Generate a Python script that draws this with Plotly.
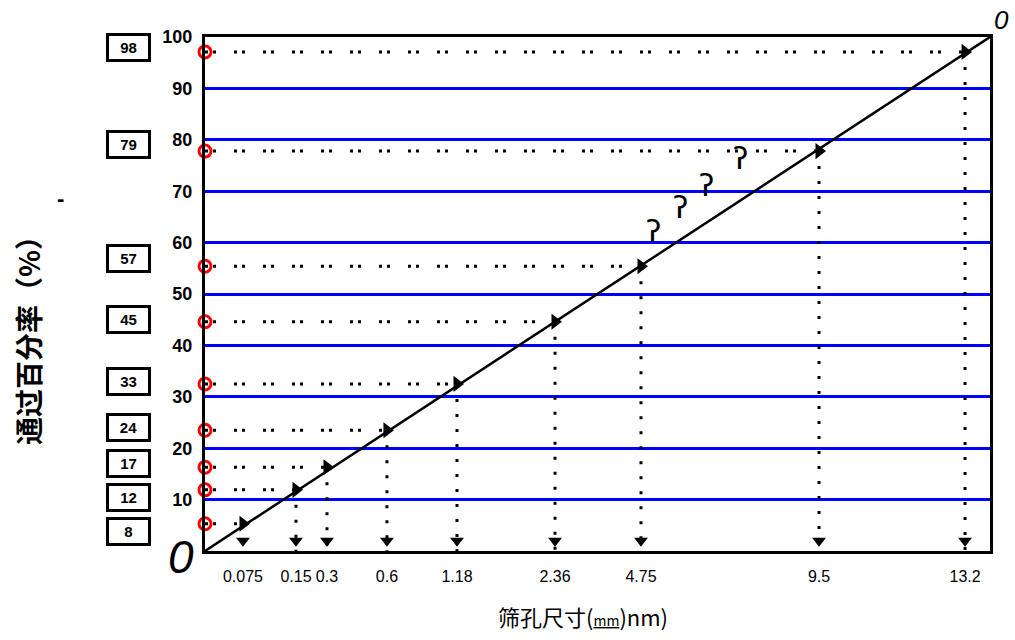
import plotly.graph_objects as go

# ---- data ----
sieve_labels = ["0.075", "0.15", "0.3", "0.6", "1.18", "2.36", "4.75", "9.5", "13.2"]
# position of each sieve along the (irregular) horizontal scale, 0-100
sieve_pos = [4.84, 11.59, 15.54, 23.18, 32.10, 44.59, 55.54, 78.22, 96.82]
# passing percentage as drawn
passing = [5.3, 11.9, 16.3, 23.5, 32.5, 44.6, 55.4, 77.8, 97.1]
# values written in the boxes on the left
box_values = [8, 12, 17, 24, 33, 45, 57, 79, 98]
box_labels = ["8", "12", "17", "24", "33", "45", "57", "79", "98"]
# maximum-density reference line
ref_x = [0, 100]
ref_y = [0, 100]
y_ticks = [10, 20, 30, 40, 50, 60, 70, 80, 90, 100]
# "?" marks near the line
q_x = [57.1, 60.6, 63.9, 68.2]
q_y = [62.1, 66.9, 71.2, 76.3]

L, R, T, B = 205, 25, 37, 89
W, H = 1015, 640
plot_w = W - L - R
plot_h = H - T - B
px_per_unit = plot_h / 100.0


def px_x(px):
    return (px - L) / plot_w


def px_y(py):
    return (H - B - py) / plot_h


fig = go.Figure()

# horizontal dotted lines from y axis to each point
hx, hy = [], []
for xp, p in zip(sieve_pos, passing):
    hx += [0, xp, None]
    hy += [p, p, None]
fig.add_trace(go.Scatter(x=hx, y=hy, mode="lines",
                         line=dict(color="black", width=3, dash="3px,5px,3px,18px"),
                         hoverinfo="skip", showlegend=False))
# vertical dotted lines from each point down to the axis
vx, vy = [], []
for xp, p in zip(sieve_pos, passing):
    vx += [xp, xp, None]
    vy += [p, 0, None]
fig.add_trace(go.Scatter(x=vx, y=vy, mode="lines",
                         line=dict(color="black", width=3, dash="3px,12px"),
                         hoverinfo="skip", showlegend=False))

# reference diagonal
fig.add_trace(go.Scatter(x=ref_x, y=ref_y, mode="lines",
                         line=dict(color="black", width=2.5),
                         hoverinfo="skip", showlegend=False))

# points on the curve
fig.add_trace(go.Scatter(x=sieve_pos, y=passing, mode="markers",
                         marker=dict(symbol="triangle-right", size=14, color="black"),
                         showlegend=False, cliponaxis=False))
# pins at the axis
fig.add_trace(go.Scatter(x=sieve_pos, y=[2.0] * len(sieve_pos), mode="markers",
                         marker=dict(symbol="triangle-down", size=12, color="black"),
                         showlegend=False, cliponaxis=False))
# red open markers on the y axis
fig.add_trace(go.Scatter(x=[0] * len(passing), y=passing, mode="markers",
                         marker=dict(symbol="circle-open", size=12, color="#ff0000",
                                     line=dict(width=3, color="#ff0000")),
                         showlegend=False, cliponaxis=False))

annotations = []
# boxed labels on the left (pushed apart when they would overlap)
order = sorted(range(len(box_values)), key=lambda i: -box_values[i])
prev = None
for i in order:
    py = box_values[i] * px_per_unit
    if prev is not None and prev - py < 34:
        py = prev - 34
    prev = py
    annotations.append(dict(
        x=px_x(128), xref="paper", y=box_values[i], yref="y",
        yshift=py - box_values[i] * px_per_unit,
        text=box_labels[i], showarrow=False,
        font=dict(family="Liberation Sans", size=15, color="black", weight="bold"),
        bordercolor="black", borderwidth=3, borderpad=1, width=37, height=21,
        bgcolor="white", xanchor="center", yanchor="middle"))

for qx, qy in zip(q_x, q_y):
    annotations.append(dict(x=qx, y=qy, xref="x", yref="y", text="ʔ", showarrow=False,
                            xanchor="center", yanchor="middle",
                            font=dict(family="DejaVu Sans", size=30, color="black")))

# axis titles
annotations.append(dict(x=px_x(28), y=px_y(334), xref="paper", yref="paper",
                        xanchor="center", yanchor="middle",
                        text="通过百分率（%）", textangle=-90, showarrow=False,
                        font=dict(family="Noto Sans CJK SC", size=28, color="black", weight="bold")))
annotations.append(dict(x=px_x(583), y=px_y(616), xref="paper", yref="paper",
                        xanchor="center", yanchor="middle",
                        text="筛孔尺寸(<span style='font-size:14px;text-decoration:underline'>mm</span>)nm)",
                        showarrow=False,
                        font=dict(family="Noto Sans CJK SC", size=22, color="black")))
# corner marks
annotations.append(dict(x=px_x(181), y=px_y(557), xref="paper", yref="paper",
                        xanchor="center", yanchor="middle",
                        text="<i>0</i>", showarrow=False,
                        font=dict(family="Liberation Sans", size=46, color="black")))
annotations.append(dict(x=px_x(1001), y=px_y(20), xref="paper", yref="paper",
                        xanchor="center", yanchor="middle",
                        text="<i>0</i>", showarrow=False,
                        font=dict(family="Liberation Sans", size=26, color="black")))
annotations.append(dict(x=px_x(60), y=px_y(198), xref="paper", yref="paper",
                        xanchor="center", yanchor="middle",
                        text="-", showarrow=False,
                        font=dict(family="Liberation Sans", size=22, color="black", weight="bold")))

fig.update_layout(
    width=W, height=H,
    margin=dict(l=L, r=R, t=T, b=B),
    paper_bgcolor="white", plot_bgcolor="white",
    showlegend=False,
    annotations=annotations,
    xaxis=dict(range=[0, 100], tickvals=sieve_pos, ticktext=sieve_labels,
               showgrid=False, zeroline=False, showline=True, mirror=True,
               linecolor="black", linewidth=3, ticks="", tickangle=0,
               tickfont=dict(family="Liberation Sans Narrow, Liberation Sans", size=16, color="black"),
               ticklabelstandoff=9),
    yaxis=dict(range=[0, 100], tickvals=y_ticks,
               showgrid=True, gridcolor="#0000ff", gridwidth=3, zeroline=False,
               showline=True, mirror=True, linecolor="black", linewidth=3, ticks="",
               tickfont=dict(family="Liberation Sans", size=18, color="black", weight="bold"),
               ticklabelstandoff=6),
)

fig.write_html("out.html")
